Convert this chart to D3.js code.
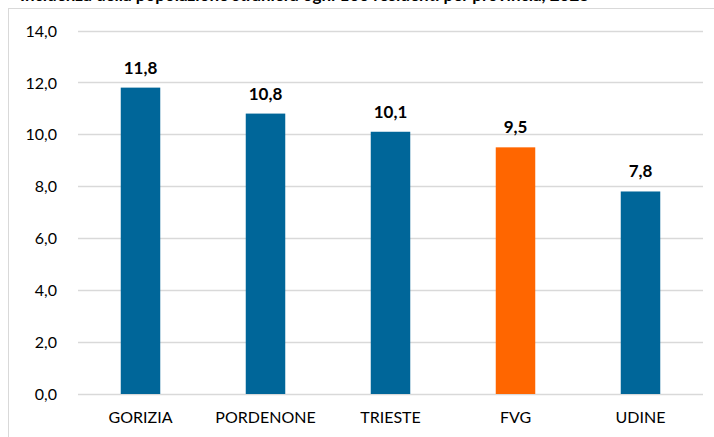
<!DOCTYPE html>
<html>
<head>
<meta charset="utf-8">
<script src="https://cdn.jsdelivr.net/npm/d3@7"></script>
<style>
  body { margin: 0; background: #fff; }
  svg { display: block; font-family: Lato, "Open Sans", sans-serif; }
</style>
</head>
<body>
<svg id="bar-chart"></svg>
<script>
let width = 714;
let height = 437;

let categories = ["GORIZIA", "PORDENONE", "TRIESTE", "FVG", "UDINE"];
let values = [11.8, 10.8, 10.1, 9.5, 7.8];
let yTicks = [0, 2, 4, 6, 8, 10, 12, 14];
let title = "Incidenza della popolazione straniera ogni 100 residenti per provincia, 2023";

let blue = "#006699";
let orange = "#ff6600";

let margin = { top: 30.5, right: 11, bottom: 43, left: 78 };

let svg = d3.select("#bar-chart")
    .attr("width", width)
    .attr("height", height);

// chart frame (only top and left edges are visible in the window)
svg.append("rect")
    .attr("x", 8.5)
    .attr("y", 8.5)
    .attr("width", width + 20)
    .attr("height", height + 20)
    .attr("fill", "none")
    .attr("stroke", "#d9d9d9");

// title, mostly cut off at the top like in the source picture
svg.append("text")
    .attr("x", 20)
    .attr("y", 1)
    .style("font-weight", "bold")
    .style("font-size", "17px")
    .text(title);

let x = d3.scaleBand()
    .domain(categories)
    .range([margin.left, width - margin.right])
    .paddingInner(0.684)
    .paddingOuter(0.342);

let y = d3.scaleLinear()
    .domain([0, 14])
    .range([height - margin.bottom, margin.top]);

// gridlines
svg.append("g")
    .selectAll("line")
    .data(yTicks)
    .join("line")
    .attr("x1", margin.left)
    .attr("x2", width - margin.right)
    .attr("y1", d => Math.round(y(d)) + 0.5)
    .attr("y2", d => Math.round(y(d)) + 0.5)
    .attr("stroke", "#d9d9d9")
    .attr("stroke-width", 1.3);

let yAxis = svg.append("g")
    .attr("class", "y axis")
    .attr("transform", `translate(${margin.left - 21},0)`)
    .call(d3.axisLeft(y)
        .tickValues(yTicks)
        .tickSize(0)
        .tickPadding(0)
        .tickFormat(d => d3.format(".1f")(d).replace(".", ",")))
    .call(g => g.select(".domain").remove());

yAxis.selectAll("text")
    .style("font-size", "16px")
    .style("font-family", "Lato, 'Open Sans', sans-serif")
    .attr("fill", "#000")
    .attr("dy", "0.35em");

svg.append("g")
    .selectAll("rect")
    .data(values)
    .join("rect")
    .attr("x", (d, i) => x(categories[i]))
    .attr("width", x.bandwidth())
    .attr("y", d => y(d))
    .attr("height", d => y(0) - y(d))
    .attr("fill", (d, i) => categories[i] == "FVG" ? orange : blue);

// value labels
svg.append("g")
    .selectAll("text")
    .data(values)
    .join("text")
    .attr("x", (d, i) => x(categories[i]) + x.bandwidth() / 2)
    .attr("y", d => y(d) - 14)
    .attr("text-anchor", "middle")
    .style("font-weight", "bold")
    .style("font-size", "17px")
    .text(d => d3.format(".1f")(d).replace(".", ","));

let xAxis = svg.append("g")
    .attr("class", "x axis")
    .attr("transform", `translate(0,${y(0)})`)
    .call(d3.axisBottom(x).tickSize(0).tickPadding(18))
    .call(g => g.select(".domain").remove());

xAxis.selectAll("text")
    .style("font-size", "16px")
    .style("font-family", "Lato, 'Open Sans', sans-serif")
    .attr("fill", "#000");
</script>
</body>
</html>
